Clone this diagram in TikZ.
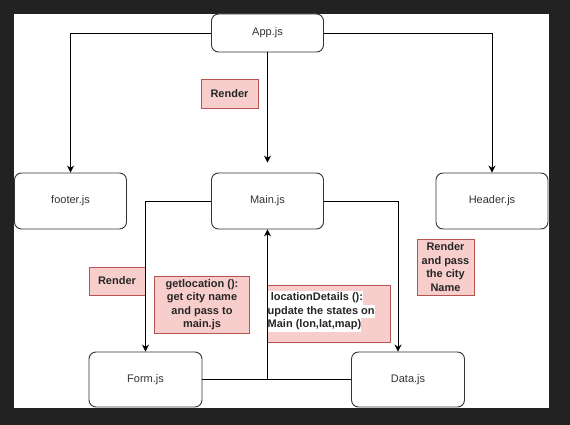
\documentclass[tikz,border=0pt]{standalone}
\usepackage{fontspec}
\setmainfont{Liberation Sans}
\usetikzlibrary{arrows.meta,calc}
\definecolor{bgdark}{HTML}{222222}
\definecolor{pinkf}{HTML}{F8CECC}
\definecolor{pinkd}{HTML}{B85450}
\definecolor{txtgrey}{HTML}{333333}
\newcommand\whl[1]{{\setlength\fboxsep{0pt}\colorbox{white}{\strut #1}}}
\begin{document}
\begin{tikzpicture}[x=1pt,y=-1pt,
  comp/.style={draw=txtgrey, line width=0.9pt, rounded corners=7pt, fill=white,
    minimum width=112pt, minimum height=56pt, inner sep=0pt,
    font=\fontsize{11}{13.5}\selectfont, text=txtgrey},
  lbl/.style={draw=pinkd, fill=pinkf, line width=0.8pt, inner sep=0pt,
    font=\fontsize{11}{13.5}\selectfont\bfseries, text=black!85, align=center},
  conn/.style={draw=black, line width=0.9pt},
  arr/.style={conn, -{Stealth[length=7pt,width=7pt]}}]
\useasboundingbox (0,0) rectangle (570,425);
\fill[bgdark] (0,0) rectangle (570,425);
\fill[white] (14,14) rectangle (549,408);

% components
\node[comp, minimum height=38pt] (app) at (267.5,33) {App.js};
\node[comp] (footer) at (70.5,201) {footer.js};
\node[comp] (main) at (267.5,201) {Main.js};
\node[comp] (header) at (492,201) {Header.js};
\node[comp, minimum width=113pt, minimum height=55pt] (form) at (145.5,379.5) {Form.js};
\node[comp, minimum width=113pt, minimum height=55pt] (data) at (408,379.5) {Data.js};

% labels
\node[lbl, minimum width=57pt, minimum height=29pt] (r1) at (229.5,93.5) {Render};
\node[lbl, minimum width=56pt, minimum height=28pt] (r2) at (117,281) {Render};
\node[lbl, minimum width=95pt, minimum height=57pt] (gl) at (202,304.5)
  {getlocation ():\\get city name\\and pass to\\main.js};
\node[lbl, minimum width=123pt, minimum height=57pt] (ld) at (328.5,313.5) {};
\node[anchor=west, inner sep=0pt, align=left, text=black!85,
  font=\fontsize{11}{13.7}\selectfont\bfseries] (ldt) at (267.5,311.5)
  {\whl{\ locationDetails ():}\\[-0.4pt]\whl{update the states on}\\[-0.4pt]\whl{Main (lon,lat,map)}};
\node[lbl, minimum width=57pt, minimum height=56pt] (rp) at (445.5,267)
  {Render\\and pass\\the city\\Name};

% connectors
\coordinate (mainin) at ([yshift=10pt]main.north);
\coordinate (datain) at ([xshift=-10pt]data.north);
\coordinate (junc) at (main.south |- form.east);
\draw[arr] (app.west) -| (footer.north);
\draw[arr] (app.east) -| (header.north);
\draw[arr] (app.south) -- (mainin);
\draw[arr] (main.west) -| (form.north);
\draw[arr] (main.east) -| (datain);
\draw[conn] (form.east) -- (data.west);
\draw[arr] (junc) -- (main.south);
\end{tikzpicture}
\end{document}
